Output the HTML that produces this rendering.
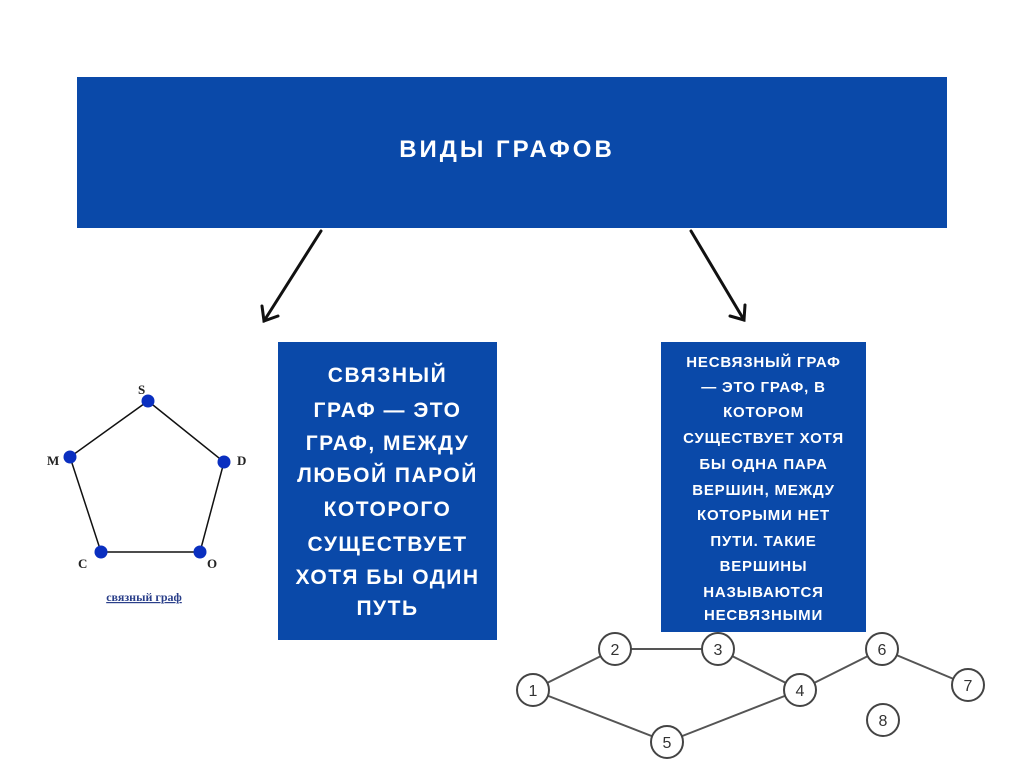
<!DOCTYPE html>
<html><head><meta charset="utf-8"><style>
body{margin:0;width:1024px;height:768px;background:#fff;position:relative;overflow:hidden;font-family:"Liberation Sans",sans-serif}
.box{position:absolute;background:#0a49a9;color:#fff;font-weight:bold;text-align:center;text-transform:uppercase}
.l{position:absolute;left:0;right:0;white-space:nowrap}
</style></head><body>
<div class="box" style="left:77px;top:77px;width:870px;height:151px">
<div class="l" style="left:-10px;top:59px;font-size:24px;letter-spacing:3px">ВИДЫ ГРАФОВ</div></div>
<div class="box" style="left:278px;top:342px;width:219px;height:298px;font-size:21px;letter-spacing:1.5px">
<div class="l" style="top:22px">СВЯЗНЫЙ</div>
<div class="l" style="top:57px">ГРАФ — ЭТО</div>
<div class="l" style="top:90px">ГРАФ, МЕЖДУ</div>
<div class="l" style="top:122px">ЛЮБОЙ ПАРОЙ</div>
<div class="l" style="top:156px">КОТОРОГО</div>
<div class="l" style="top:191px">СУЩЕСТВУЕТ</div>
<div class="l" style="top:224px">ХОТЯ БЫ ОДИН</div>
<div class="l" style="top:255px">ПУТЬ</div>
</div>
<div class="box" style="left:661px;top:342px;width:205px;height:290px;font-size:15px;letter-spacing:0.8px">
<div class="l" style="top:12px">НЕСВЯЗНЫЙ ГРАФ</div>
<div class="l" style="top:37px">— ЭТО ГРАФ, В</div>
<div class="l" style="top:62px">КОТОРОМ</div>
<div class="l" style="top:88px">СУЩЕСТВУЕТ ХОТЯ</div>
<div class="l" style="top:114px">БЫ ОДНА ПАРА</div>
<div class="l" style="top:140px">ВЕРШИН, МЕЖДУ</div>
<div class="l" style="top:165px">КОТОРЫМИ НЕТ</div>
<div class="l" style="top:191px">ПУТИ. ТАКИЕ</div>
<div class="l" style="top:216px">ВЕРШИНЫ</div>
<div class="l" style="top:242px">НАЗЫВАЮТСЯ</div>
<div class="l" style="top:265px">НЕСВЯЗНЫМИ</div>
</div>
<svg width="1024" height="768" style="position:absolute;left:0;top:0" font-family="Liberation Serif,serif">
<g stroke="#111" stroke-width="3" fill="none" stroke-linecap="round">
<line x1="321" y1="231" x2="264" y2="321"/><polyline points="262,306 264,321 278,316"/>
<line x1="691" y1="231" x2="744" y2="320"/><polyline points="730,316 744,320 745,305"/>
</g>
<g stroke="#111" stroke-width="1.5" fill="none">
<polygon points="148,401 224,462 200,552 101,552 70,457"/>
</g>
<g fill="#0a2fc0">
<circle cx="148" cy="401" r="6.5"/><circle cx="224" cy="462" r="6.5"/><circle cx="200" cy="552" r="6.5"/><circle cx="101" cy="552" r="6.5"/><circle cx="70" cy="457" r="6.5"/>
</g>
<g font-size="13" font-weight="bold" fill="#222">
<text x="138" y="394">S</text><text x="237" y="465">D</text><text x="47" y="465">M</text><text x="78" y="568">C</text><text x="207" y="568">O</text>
</g>
<text x="144" y="601" text-anchor="middle" font-size="12" font-weight="bold" fill="#2a3f8a" text-decoration="underline">связный граф</text>
<g stroke="#555" stroke-width="2" fill="none">
<line x1="533" y1="690" x2="615" y2="649"/><line x1="615" y1="649" x2="718" y2="649"/><line x1="718" y1="649" x2="800" y2="690"/>
<line x1="533" y1="690" x2="667" y2="742"/><line x1="667" y1="742" x2="800" y2="690"/><line x1="800" y1="690" x2="882" y2="649"/><line x1="882" y1="649" x2="968" y2="685"/>
</g>
<g stroke="#444" stroke-width="2" fill="#fff">
<circle cx="533" cy="690" r="16"/><circle cx="615" cy="649" r="16"/><circle cx="718" cy="649" r="16"/><circle cx="800" cy="690" r="16"/><circle cx="667" cy="742" r="16"/><circle cx="882" cy="649" r="16"/><circle cx="968" cy="685" r="16"/><circle cx="883" cy="720" r="16"/>
</g>
<g font-family="Liberation Sans,sans-serif" font-size="16" fill="#333" text-anchor="middle">
<text x="533" y="696">1</text><text x="615" y="655">2</text><text x="718" y="655">3</text><text x="800" y="696">4</text><text x="667" y="748">5</text><text x="882" y="655">6</text><text x="968" y="691">7</text><text x="883" y="726">8</text>
</g>
</svg>
</body></html>
